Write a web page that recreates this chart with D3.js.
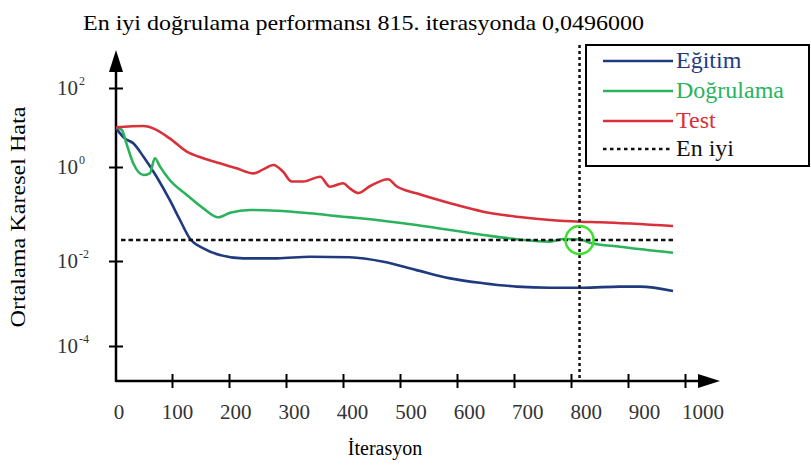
<!DOCTYPE html>
<html>
<head>
<meta charset="utf-8">
<script src="https://cdn.jsdelivr.net/npm/d3@7"></script>
<style>
  body { margin: 0; background: #fff; }
  svg { display: block; }
  svg text { font-family: 'Liberation Serif', 'DejaVu Serif', 'Times New Roman', serif; }
</style>
</head>
<body>
<svg width="811" height="468"></svg>
<script>
// values
let iterTraining = [2, 17, 32, 50, 73, 96, 114, 131, 155, 184, 225, 284, 342, 412, 471, 529, 588, 646, 705, 763, 822, 886, 921, 979];
let mseTraining = [9.5, 5.3, 3.98, 1.82, 0.62, 0.199, 0.0745, 0.0304, 0.0186, 0.0134, 0.0114, 0.0114, 0.0123, 0.012, 0.0096, 0.0061, 0.0039, 0.003, 0.0025, 0.00235, 0.00235, 0.0025, 0.0025, 0.00197];

let iterValidation = [2, 12, 20, 32, 50, 61, 70, 79, 96, 126, 155, 181, 202, 237, 284, 342, 400, 430, 529, 646, 705, 763, 787, 816, 833, 886, 979];
let mseValidation = [10.1, 8.65, 3.98, 1.24, 0.676, 0.734, 1.66, 1.02, 0.529, 0.254, 0.132, 0.0851, 0.1066, 0.1216, 0.1175, 0.1035, 0.0877, 0.081, 0.0583, 0.0357, 0.029, 0.0258, 0.0294, 0.0287, 0.0245, 0.0201, 0.015];

let iterTest = [2, 50, 67, 96, 126, 155, 184, 213, 243, 260, 278, 295, 310, 330, 360, 377, 400, 412, 427, 447, 479, 494, 529, 588, 646, 705, 763, 816, 851, 979];
let mseTest = [10.1, 10.9, 9.5, 5.3, 2.44, 1.66, 1.24, 0.94, 0.73, 0.89, 1.12, 0.79, 0.49, 0.49, 0.62, 0.38, 0.45, 0.35, 0.28, 0.39, 0.55, 0.39, 0.275, 0.169, 0.112, 0.0877, 0.0745, 0.0686, 0.0666, 0.0555];

let seriesNames = ["Eğitim", "Doğrulama", "Test"];
let seriesColors = ["#1f3a7e", "#2ab35c", "#d9303a"];

let bestIteration = 815;
let bestLevel = 0.028;   // where the dashed line and circle sit in the picture
let bestText = "0,0496000";

let xTicks = [0, 100, 200, 300, 400, 500, 600, 700, 800, 900, 1000];
let yTicks = [1e-4, 1e-2, 1, 1e2];
let yTickExp = ["-4", "-2", "0", "2"];

let serif = "'Liberation Serif', 'DejaVu Serif', serif";

let svg = d3.select("svg").attr("font-family", serif);

let x = d3.scaleLinear().domain([0, 1000]).range([115, 685]);
// the drawn decades are not evenly spaced, so the log scale is piecewise
let y = d3.scaleLog().domain(yTicks).range([346, 261, 167, 88]);

let x0 = 116, y0 = 381;

// title
svg.append("text")
  .attr("x", 83).attr("y", 30)
  .attr("font-size", 22)
  .attr("textLength", 561)
  .attr("lengthAdjust", "spacingAndGlyphs")
  .text(`En iyi doğrulama performansı ${bestIteration}. iterasyonda ${bestText}`);

// axis labels
svg.append("text")
  .attr("transform", "translate(25,217) rotate(-90)")
  .attr("text-anchor", "middle")
  .attr("font-size", 21)
  .attr("textLength", 221)
  .attr("lengthAdjust", "spacingAndGlyphs")
  .text("Ortalama Karesel Hata");

svg.append("text")
  .attr("x", 385).attr("y", 455)
  .attr("text-anchor", "middle")
  .attr("font-size", 20)
  .text("İterasyon");

// x axis
let xAxis = svg.append("g")
  .attr("transform", `translate(0,${y0})`)
  .call(d3.axisBottom(x).tickValues(xTicks.slice(1)).tickSize(7).tickFormat(""));
xAxis.select(".domain").remove();
xAxis.selectAll(".tick line").attr("y1", -7).attr("stroke-width", 2);

svg.append("g").selectAll("text")
  .data(xTicks)
  .enter().append("text")
  .attr("x", d => x(d))
  .attr("dx", d => 4 + d * 0.014)
  .attr("y", 419)
  .attr("text-anchor", "middle")
  .attr("font-size", 21)
  .attr("fill", "#333")
  .text(d => d);

// y axis
let yAxis = svg.append("g")
  .attr("transform", `translate(${x0},0)`)
  .call(d3.axisLeft(y).tickValues(yTicks).tickSize(7).tickFormat(""));
yAxis.select(".domain").remove();
yAxis.selectAll(".tick line").attr("x1", 7).attr("stroke-width", 2);

svg.append("g").selectAll("text")
  .data(yTicks)
  .enter().append("text")
  .attr("x", 78)
  .attr("y", d => y(d))
  .attr("dy", "0.35em")
  .attr("text-anchor", "end")
  .attr("font-size", 21)
  .attr("fill", "#333")
  .text("10");
svg.append("g").selectAll("text")
  .data(yTicks)
  .enter().append("text")
  .attr("x", 79)
  .attr("y", d => y(d) - 3)
  .attr("font-size", 12)
  .attr("fill", "#333")
  .text((d, i) => yTickExp[i]);

// axis lines with arrows
svg.append("line")
  .attr("x1", x0).attr("x2", 700).attr("y1", y0).attr("y2", y0)
  .attr("stroke", "#000").attr("stroke-width", 2.5);
svg.append("path")
  .attr("d", `M698,${y0 - 7}L720,${y0}L698,${y0 + 7}Z`)
  .attr("fill", "#000");
svg.append("line")
  .attr("x1", x0).attr("x2", x0).attr("y1", y0 + 1).attr("y2", 70)
  .attr("stroke", "#000").attr("stroke-width", 2.5);
svg.append("path")
  .attr("d", `M${x0 - 7},72L${x0},50L${x0 + 7},72Z`)
  .attr("fill", "#000");

// curves
let line = d3.line()
  .x(d => x(d[0]))
  .y(d => y(d[1]))
  .curve(d3.curveMonotoneX);

let series = [
  d3.zip(iterTraining, mseTraining),
  d3.zip(iterValidation, mseValidation),
  d3.zip(iterTest, mseTest)
];

svg.append("g").selectAll("path")
  .data(series)
  .enter().append("path")
  .attr("d", line)
  .attr("fill", "none")
  .attr("stroke", (d, i) => seriesColors[i])
  .attr("stroke-width", 2.6);

// best marker
svg.append("line")
  .attr("x1", x(0) + 6).attr("x2", x(979))
  .attr("y1", y(bestLevel)).attr("y2", y(bestLevel))
  .attr("stroke", "#111").attr("stroke-width", 2.5)
  .attr("stroke-dasharray", "4.5,3");

svg.append("line")
  .attr("x1", x(bestIteration)).attr("x2", x(bestIteration))
  .attr("y1", 45).attr("y2", y0 - 3)
  .attr("stroke", "#111").attr("stroke-width", 2.5)
  .attr("stroke-dasharray", "3,3");

svg.append("circle")
  .attr("cx", x(bestIteration)).attr("cy", y(bestLevel))
  .attr("r", 14)
  .attr("fill", "none")
  .attr("stroke", "#3ee030")
  .attr("stroke-width", 2.5);

// legend
let legend = svg.append("g");
legend.append("rect")
  .attr("x", 586).attr("y", 45)
  .attr("width", 223).attr("height", 121)
  .attr("fill", "#fff")
  .attr("stroke", "#000").attr("stroke-width", 2);

let legendItems = seriesNames.map((n, i) => ({name: n, color: seriesColors[i], dash: null}))
  .concat([{name: "En iyi", color: "#111", dash: "3.5,3.5"}]);
let rowY = [61, 91, 121, 149];

let item = legend.selectAll(".legendItem")
  .data(legendItems)
  .enter().append("g")
  .attr("class", "legendItem")
  .attr("transform", (d, i) => `translate(0,${rowY[i]})`);

item.append("line")
  .attr("x1", 603).attr("x2", 673)
  .attr("stroke", d => d.color)
  .attr("stroke-width", d => d.dash ? 2.5 : 2.6)
  .attr("stroke-dasharray", d => d.dash);

item.append("text")
  .attr("x", 676).attr("y", 7)
  .attr("font-size", 24)
  .attr("fill", d => d.color)
  .text(d => d.name);
</script>
</body>
</html>
